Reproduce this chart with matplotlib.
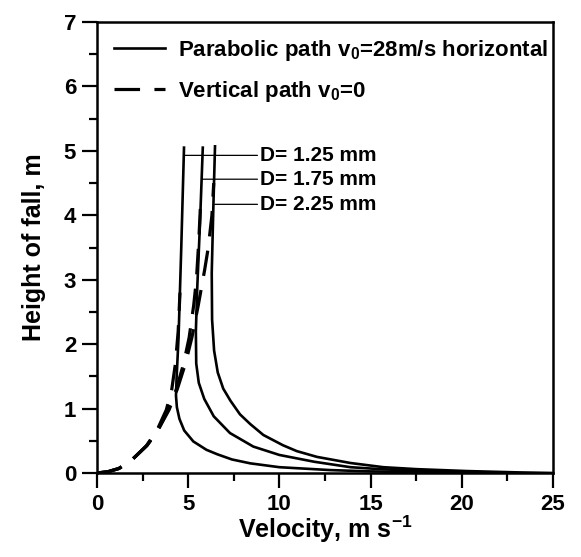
import numpy as np
import matplotlib
matplotlib.use('Agg')
import matplotlib.pyplot as plt
from matplotlib.ticker import MultipleLocator

plt.rcParams['font.family'] = ['Liberation Sans', 'DejaVu Sans']
plt.rcParams['font.weight'] = 'bold'
plt.rcParams['axes.labelweight'] = 'bold'
plt.rcParams['mathtext.fontset'] = 'custom'
plt.rcParams['mathtext.rm'] = 'Liberation Sans:bold'
plt.rcParams['mathtext.bf'] = 'Liberation Sans:bold'
plt.rcParams['mathtext.default'] = 'bf'

# parabolic path (solid), velocity vs height of fall, one per drop size
par_v_125 = [4.77, 4.62, 4.47, 4.36, 4.33, 4.38, 4.52, 4.78, 5.28, 6.00, 6.60, 7.40, 8.40, 10.0, 12.8, 15.0, 18.0, 21.0]
par_h_125 = [5.05, 3.50, 2.10, 1.45, 1.20, 1.02, 0.84, 0.66, 0.49, 0.36, 0.29, 0.21, 0.15, 0.09, 0.045, 0.025, 0.01, 0.0]

par_v_175 = [5.80, 5.65, 5.50, 5.42, 5.44, 5.58, 5.88, 6.40, 7.29, 8.57, 10.0, 11.9, 13.9, 15.5, 17.5, 20.0, 23.0]
par_h_175 = [5.05, 3.90, 2.90, 2.20, 1.70, 1.40, 1.15, 0.88, 0.62, 0.41, 0.28, 0.175, 0.09, 0.06, 0.035, 0.015, 0.0]

par_v_225 = [6.47, 6.38, 6.29, 6.31, 6.42, 6.62, 6.92, 7.32, 7.84, 8.40, 9.12, 10.2, 10.95, 12.06, 13.9, 15.7, 17.5, 20.3, 23.0, 25.0]
par_h_225 = [5.07, 4.14, 3.10, 2.38, 1.90, 1.56, 1.31, 1.12, 0.91, 0.76, 0.59, 0.43, 0.34, 0.25, 0.155, 0.09, 0.06, 0.03, 0.01, 0.0]

# vertical path (dashed), starting from rest
ver_v_125 = [0, 0.6, 1.2, 1.9, 2.7, 3.3, 3.8, 4.1, 4.3, 4.45, 4.55]
ver_h_125 = [0, 0.02, 0.07, 0.2, 0.42, 0.67, 0.98, 1.3, 1.7, 2.2, 2.8]

ver_v_175 = [0, 0.6, 1.2, 1.9, 2.75, 3.35, 3.9, 4.35, 4.75, 5.05, 5.3, 5.45, 5.58, 5.68]
ver_h_175 = [0, 0.02, 0.07, 0.2, 0.43, 0.67, 0.98, 1.3, 1.7, 2.1, 2.6, 3.0, 3.6, 4.2]

ver_v_225 = [0, 0.6, 1.2, 1.9, 2.75, 3.35, 3.95, 4.4, 4.85, 5.2, 5.55, 5.9, 6.1, 6.3, 6.4]
ver_h_225 = [0, 0.02, 0.07, 0.2, 0.43, 0.67, 0.98, 1.3, 1.7, 2.1, 2.6, 3.15, 3.5, 4.0, 4.5]

# drop size labels: text, height of leader line, start of leader line
d_labels = ['D= 1.25 mm', 'D= 1.75 mm', 'D= 2.25 mm']
d_label_h = [4.93, 4.56, 4.17]
d_label_v = [4.72, 5.72, 6.38]
d_text_v = 8.95

fig = plt.figure(figsize=(5.81, 5.57), dpi=100)
ax = fig.add_axes([97/581, 1-473/557, (553-97)/581, (473-22)/557])

dash = (0, (8, 4.5))
ax.plot(ver_v_125, ver_h_125, color='k', lw=2.3, ls=dash, label=r'Vertical path v$_0$=0')
ax.plot(ver_v_175, ver_h_175, color='k', lw=2.3, ls=dash)
ax.plot(ver_v_225, ver_h_225, color='k', lw=2.3, ls=dash)

ax.plot(par_v_125, par_h_125, color='k', lw=1.9, label=r'Parabolic path v$_0$=28m/s horizontal')
ax.plot(par_v_175, par_h_175, color='k', lw=1.9)
ax.plot(par_v_225, par_h_225, color='k', lw=1.9)

for txt, h, v in zip(d_labels, d_label_h, d_label_v):
    ax.annotate(txt, xy=(v, h), xytext=(d_text_v, h), fontsize=15, va='center', ha='left',
                arrowprops=dict(arrowstyle='-', lw=0.9, color='k', shrinkA=0, shrinkB=1))

handles, labels = ax.get_legend_handles_labels()
ax.legend(handles[::-1], labels[::-1], loc='upper left', bbox_to_anchor=(0.008, 0.995),
          frameon=False, fontsize=16, handlelength=2.3, handletextpad=0.6,
          labelspacing=0.75, borderaxespad=0.2)

ax.set_xlim(0, 25)
ax.set_ylim(0, 7)
ax.xaxis.set_major_locator(MultipleLocator(5))
ax.xaxis.set_minor_locator(MultipleLocator(2.5))
ax.yaxis.set_major_locator(MultipleLocator(1))
ax.yaxis.set_minor_locator(MultipleLocator(0.5))
ax.tick_params(which='major', direction='out', length=11, width=1.6, labelsize=16, pad=4)
ax.tick_params(which='minor', direction='out', length=6, width=1.6)
ax.tick_params(top=False, right=False)
for s in ax.spines.values():
    s.set_linewidth(1.8)

ax.set_xlabel(r'Velocity, m s$^{-1}$', fontsize=18, labelpad=-1)
ax.set_ylabel('Height of fall, m', fontsize=18, labelpad=13)

fig.savefig('out.png', dpi=100)
